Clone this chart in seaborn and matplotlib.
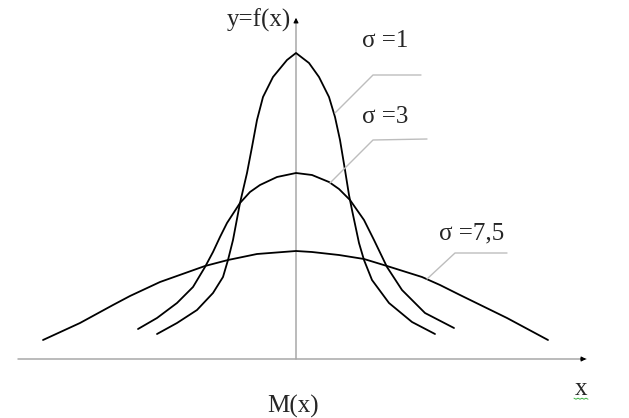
import pandas as pd
import matplotlib
matplotlib.use("Agg")
import matplotlib.pyplot as plt
import seaborn as sns

# Curve data (x relative to M(x), y = f(x))
x_s1 = [-13.9, -11.9, -9.9, -8.3, -7.3, -6.8, -6.3, -5.6, -4.9, -4.4, -3.9, -3.3, -2.3, -0.9, 0.0,
        1.3, 2.3, 3.3, 3.9, 4.4, 4.9, 5.3, 5.6, 6.3, 6.8, 7.6, 9.3, 11.6, 13.9]
y_s1 = [0.025, 0.036, 0.049, 0.066, 0.082, 0.099, 0.119, 0.156, 0.186, 0.212, 0.239, 0.262, 0.282, 0.299, 0.306,
        0.296, 0.282, 0.262, 0.242, 0.219, 0.189, 0.164, 0.149, 0.116, 0.099, 0.079, 0.056, 0.037, 0.025]

x_s3 = [-15.8, -13.9, -11.9, -10.3, -9.1, -8.3, -7.6, -6.9, -5.6, -4.6, -3.6, -1.9, 0.0,
        1.6, 3.3, 4.3, 5.4, 6.8, 7.8, 9.1, 10.6, 12.9, 15.8]
y_s3 = [0.030, 0.041, 0.056, 0.072, 0.092, 0.107, 0.122, 0.136, 0.156, 0.167, 0.174, 0.182, 0.186,
        0.184, 0.177, 0.170, 0.159, 0.139, 0.119, 0.092, 0.069, 0.046, 0.031]

x_s75 = [-25.3, -21.6, -18.3, -16.6, -13.6, -9.1, -6.8, -3.9, 0.0,
         1.6, 4.3, 6.8, 9.1, 12.6, 14.4, 16.4, 21.1, 25.2]
y_s75 = [0.019, 0.036, 0.054, 0.063, 0.077, 0.093, 0.099, 0.105, 0.108,
         0.107, 0.104, 0.100, 0.093, 0.082, 0.074, 0.064, 0.041, 0.019]

sigma_labels = ["σ =1", "σ =3", "σ =7,5"]

# leader lines from each curve to its label
lead_x = [[3.9, 7.7, 12.5], [3.4, 7.7, 13.1], [13.1, 15.9, 21.1]]
lead_y = [[0.246, 0.284, 0.284], [0.176, 0.219, 0.220], [0.080, 0.106, 0.106]]

df = pd.concat([
    pd.DataFrame({"x": x_s1, "y": y_s1, "sigma": sigma_labels[0]}),
    pd.DataFrame({"x": x_s3, "y": y_s3, "sigma": sigma_labels[1]}),
    pd.DataFrame({"x": x_s75, "y": y_s75, "sigma": sigma_labels[2]}),
], ignore_index=True)

sns.set_style("white")
plt.rcParams["font.family"] = ["Liberation Serif", "DejaVu Serif"]

fig = plt.figure(figsize=(6.29, 4.18), dpi=100)
ax = fig.add_axes([0, 0, 1, 1])
ax.set_xlim(-29.6, 33.3)
ax.set_ylim(-0.059, 0.359)
ax.axis("off")

axis_col = "#a8a8a8"
# coordinate axes
ax.plot([-27.8, 29.0], [0, 0], color=axis_col, lw=1.1)
ax.plot([0, 0], [0, 0.338], color=axis_col, lw=1.1)
ax.annotate("", xy=(29.3, 0), xytext=(28.2, 0),
            arrowprops=dict(arrowstyle="-|>", color="black", lw=0.8, mutation_scale=7))
ax.annotate("", xy=(0, 0.344), xytext=(0, 0.334),
            arrowprops=dict(arrowstyle="-|>", color="black", lw=0.8, mutation_scale=7))

sns.lineplot(data=df, x="x", y="y", hue="sigma", palette=["black"] * 3,
             sort=False, estimator=None, lw=1.3, legend=False, ax=ax)

for lx, ly in zip(lead_x, lead_y):
    ax.plot(lx, ly, color="#bdbdbd", lw=1.0)

fs = 18
ax.text(-6.9, 0.332, "y=f(x)", fontsize=fs, ha="left", va="baseline")
ax.text(6.6, 0.312, sigma_labels[0], fontsize=fs, ha="left", va="baseline")
ax.text(6.6, 0.236, sigma_labels[1], fontsize=fs, ha="left", va="baseline")
ax.text(14.3, 0.120, sigma_labels[2], fontsize=fs, ha="left", va="baseline")
ax.text(-2.9, -0.054, "M(x)", fontsize=fs, ha="left", va="baseline")
ax.text(27.9, -0.036, "x", fontsize=fs, ha="left", va="baseline")

# spell-check squiggle under the "x"
sq_x = [27.8, 28.0, 28.2, 28.4, 28.6, 28.8, 29.0, 29.2]
sq_y = [-0.0392, -0.0402, -0.0392, -0.0402, -0.0392, -0.0402, -0.0392, -0.0402]
ax.plot(sq_x, sq_y, color="#3cb043", lw=0.7)

fig.savefig("out.png", dpi=100)
